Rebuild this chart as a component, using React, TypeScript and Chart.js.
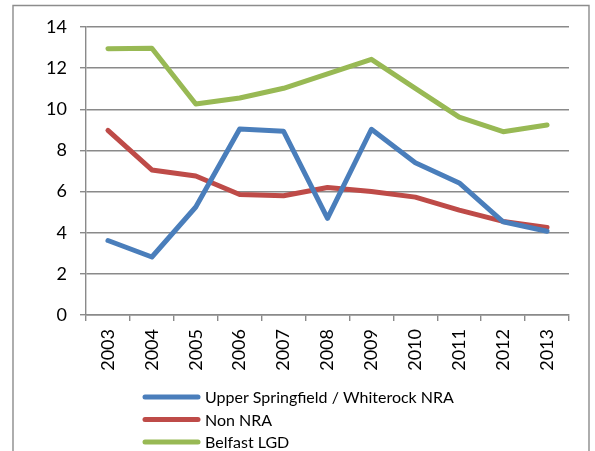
import React, { useEffect, useRef } from "react";
import { Chart, registerables } from "chart.js";

Chart.register(...registerables);

const years = ["2003", "2004", "2005", "2006", "2007", "2008", "2009", "2010", "2011", "2012", "2013"];
const upperSpringfield = [3.62, 2.82, 5.25, 9.04, 8.93, 4.7, 9.03, 7.4, 6.42, 4.53, 4.07];
const nonNRA = [8.97, 7.05, 6.76, 5.86, 5.8, 6.2, 6.0, 5.73, 5.1, 4.55, 4.26];
const belfastLGD = [12.94, 12.97, 10.26, 10.55, 11.02, 11.72, 12.43, 11.02, 9.62, 8.91, 9.24];
const seriesNames = ["Upper Springfield / Whiterock NRA", "Non NRA", "Belfast LGD"];
const yTicks = [0, 2, 4, 6, 8, 10, 12, 14];

const FONT = "Lato, 'Open Sans', sans-serif";
const GRID = "#8a8a8a";

const framePlugin = {
  id: "frame",
  beforeDraw(chart: any) {
    const ctx = chart.ctx;
    ctx.save();
    ctx.strokeStyle = "#8c8c8c";
    ctx.lineWidth = 1.4;
    ctx.beginPath();
    ctx.moveTo(13, chart.height + 2);
    ctx.lineTo(13, 5.5);
    ctx.lineTo(589, 5.5);
    ctx.lineTo(589, chart.height + 2);
    ctx.stroke();
    ctx.restore();
  },
};

const legendPlugin = {
  id: "customLegend",
  afterDraw(chart: any) {
    const ctx = chart.ctx;
    const area = chart.chartArea;
    ctx.save();
    ctx.font = `16px ${FONT}`;
    ctx.textBaseline = "middle";
    ctx.fillStyle = "#000";
    chart.data.datasets.forEach((ds: any, i: number) => {
      const y = area.bottom + 82 + i * 22.5;
      const x0 = area.left + 59;
      const x1 = area.left + 112;
      ctx.strokeStyle = ds.borderColor;
      ctx.lineWidth = 5;
      ctx.lineCap = "round";
      ctx.beginPath();
      ctx.moveTo(x0, y);
      ctx.lineTo(x1, y);
      ctx.stroke();
      ctx.fillText(ds.label, x1 + 7, y + 1);
    });
    ctx.restore();
  },
};

export default function App() {
  const ref = useRef<HTMLCanvasElement | null>(null);

  useEffect(() => {
    document.body.style.margin = "0";
    if (!ref.current) return;
    const mk = (label: string, data: number[], color: string) => ({
      label,
      data,
      borderColor: color,
      backgroundColor: color,
      borderWidth: 5,
      pointRadius: 0,
      pointHoverRadius: 0,
      tension: 0,
      borderJoinStyle: "round" as const,
      borderCapStyle: "round" as const,
      fill: false,
    });
    const chart = new Chart(ref.current, {
      type: "line",
      data: {
        labels: years,
        datasets: [
          mk(seriesNames[0], upperSpringfield, "#4A7EBB"),
          mk(seriesNames[1], nonNRA, "#BE4B48"),
          mk(seriesNames[2], belfastLGD, "#98B954"),
        ],
      },
      options: {
        animation: false,
        responsive: false,
        devicePixelRatio: 1,
        layout: { padding: { top: 27, left: 0, right: 26, bottom: 0 } },
        plugins: { legend: { display: false }, tooltip: { enabled: false }, title: { display: false } },
        scales: {
          x: {
            offset: true,
            grid: {
              offset: true,
              drawOnChartArea: false,
              drawTicks: true,
              tickLength: 6,
              color: GRID,
              lineWidth: 1.4,
            },
            border: { display: true, color: GRID, width: 1.4 },
            ticks: {
              minRotation: 90,
              maxRotation: 90,
              padding: 8,
              color: "#000",
              font: { family: FONT, size: 18 },
            },
            afterFit(scale: any) {
              scale.height = 136;
            },
          },
          y: {
            min: 0,
            max: 14,
            afterBuildTicks(scale: any) {
              scale.ticks = yTicks.map((v) => ({ value: v }));
            },
            grid: {
              color: GRID,
              lineWidth: 1.4,
              drawTicks: true,
              tickLength: 6,
            },
            border: { display: true, color: GRID, width: 1.4 },
            ticks: {
              padding: 13,
              color: "#000",
              font: { family: FONT, size: 18 },
            },
            afterFit(scale: any) {
              scale.width = 86;
            },
          },
        },
      },
      plugins: [framePlugin, legendPlugin],
    });
    return () => chart.destroy();
  }, []);

  return <canvas ref={ref} width={595} height={451} style={{ display: "block" }} />;
}
